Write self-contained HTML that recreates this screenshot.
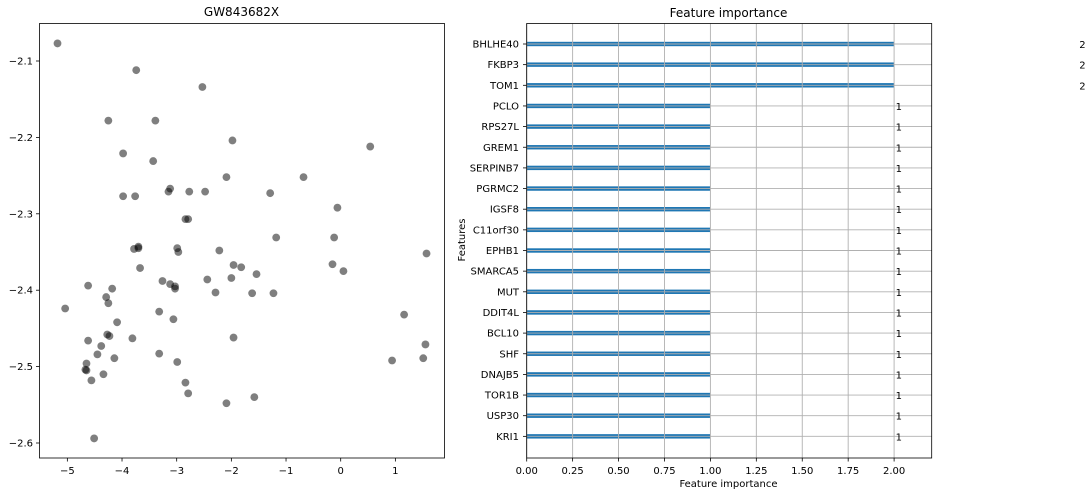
<!DOCTYPE html>
<html><head><meta charset="utf-8"><style>
body{margin:0;background:#fff;}
svg text{font-family:"DejaVu Sans","Liberation Sans",sans-serif;fill:#000;}
</style></head><body>
<svg id="fig" width="1092" height="496" xmlns="http://www.w3.org/2000/svg">
<rect width="1092" height="496" fill="#fff"/>
<g id="left"></g>
<g id="right"></g>
</svg>
<script>
const scatterX=[-5.18,-3.74,-2.53,-4.25,-3.39,-1.98,0.54,-3.98,-3.43,-2.09,-0.68,-3.12,-3.15,-2.77,-2.48,-1.29,-3.98,-3.76,-0.06,-2.84,-2.79,-1.18,-0.12,
-3.78,-3.70,-3.70,-2.99,-2.97,-2.22,1.57,-1.96,-1.82,-0.15,0.05,-3.67,-1.54,-3.26,-3.12,-3.03,-3.03,-2.44,-2.00,-4.62,-4.18,-2.29,-1.62,-1.23,-4.29,-4.25,-5.04,-3.32,1.16,-3.06,-4.09,-1.96,-3.81,-4.62,-4.27,-4.23,-4.38,1.55,-4.45,-3.32,-4.14,1.51,0.94,-2.99,-4.65,-4.67,-4.65,-4.34,-4.56,-2.84,-2.79,-1.58,-2.09,-4.51];
const scatterY=[-2.077,-2.112,-2.134,-2.178,-2.178,-2.204,-2.212,-2.221,-2.231,-2.252,-2.252,-2.267,-2.271,-2.271,-2.271,-2.273,-2.277,-2.277,-2.292,-2.307,-2.307,-2.331,-2.331,
-2.346,-2.343,-2.345,-2.345,-2.350,-2.348,-2.352,-2.367,-2.370,-2.366,-2.375,-2.371,-2.379,-2.388,-2.392,-2.395,-2.398,-2.386,-2.384,-2.394,-2.398,-2.403,-2.404,-2.404,-2.409,-2.417,-2.424,-2.428,-2.432,-2.438,-2.442,-2.462,-2.463,-2.466,-2.458,-2.460,-2.473,-2.471,-2.484,-2.483,-2.489,-2.489,-2.492,-2.494,-2.496,-2.504,-2.505,-2.510,-2.518,-2.521,-2.535,-2.540,-2.548,-2.594];
const scatterXTicks=[-5,-4,-3,-2,-1,0,1];
const scatterYTicks=[-2.1,-2.2,-2.3,-2.4,-2.5,-2.6];
const features=["BHLHE40","FKBP3","TOM1","PCLO","RPS27L","GREM1","SERPINB7","PGRMC2","IGSF8","C11orf30","EPHB1","SMARCA5","MUT","DDIT4L","BCL10","SHF","DNAJB5","TOR1B","USP30","KRI1"];
const importances=[2,2,2,1,1,1,1,1,1,1,1,1,1,1,1,1,1,1,1,1];
const impTicks=[0,0.25,0.5,0.75,1.0,1.25,1.5,1.75,2.0];

const NS="http://www.w3.org/2000/svg";
function mk(p,t,a){const e=document.createElementNS(NS,t);for(const k in a)e.setAttribute(k,a[k]);p.appendChild(e);return e;}
const L=document.getElementById('left'),R=document.getElementById('right');
// left axes
const lx=v=>340.7+54.67*v, ly=v=>61+(-2.1-v)*764;
let t=mk(L,'text',{x:241.5,y:16,'text-anchor':'middle','font-size':12});t.textContent='GW843682X';

scatterX.forEach((x,i)=>{const c=mk(L,'circle',{cx:lx(x),cy:ly(scatterY[i]),r:3.9,fill:'#000','fill-opacity':0.5});
});
scatterXTicks.forEach(v=>{const X=lx(v);mk(L,'line',{x1:X,x2:X,y1:458,y2:461.5,stroke:'#000','stroke-width':0.8});
const tt=mk(L,'text',{x:X,y:474,'text-anchor':'middle','font-size':10});tt.textContent=(v<0?'\u2212'+(-v):v);
});
scatterYTicks.forEach(v=>{const Y=ly(v);mk(L,'line',{x1:36,x2:39.5,y1:Y,y2:Y,stroke:'#000','stroke-width':0.8});
const tt=mk(L,'text',{x:33,y:Y+3.5,'text-anchor':'end','font-size':10});tt.textContent='\u2212'+(-v).toFixed(1);
});
let fr=mk(L,'rect',{x:39.5,y:23.5,width:405,height:434.5,fill:'none',stroke:'#000','stroke-width':0.8});


// right axes
const rx=v=>526.7+183.7*v, ry=i=>44+i*20.65;
t=mk(R,'text',{x:728.5,y:17,'text-anchor':'middle','font-size':12});t.textContent='Feature importance';

features.forEach((f,i)=>{const Y=ry(i),v=importances[i];
const b=mk(R,'rect',{x:rx(0),y:Y-2.2,width:rx(v)-rx(0),height:4.4,fill:'#1f77b4'});

mk(R,'line',{x1:526.7,x2:931.7,y1:Y,y2:Y,stroke:'#b0b0b0','stroke-width':0.9});
mk(R,'line',{x1:523,x2:526.7,y1:Y,y2:Y,stroke:'#000','stroke-width':0.8});
const l=mk(R,'text',{x:519,y:Y+3.5,'text-anchor':'end','font-size':10});l.textContent=f;

const vl=mk(R,'text',{x:rx(v+1)+1.5,y:Y+4,'font-size':10});vl.textContent=v;
});
impTicks.forEach(v=>{const X=rx(v);mk(R,'line',{x1:X,x2:X,y1:23.5,y2:458,stroke:'#b0b0b0','stroke-width':0.9});
mk(R,'line',{x1:X,x2:X,y1:458,y2:461.5,stroke:'#000','stroke-width':0.8});
const tt=mk(R,'text',{x:X,y:474,'text-anchor':'middle','font-size':10});tt.textContent=v.toFixed(2);
});
fr=mk(R,'rect',{x:526.7,y:23.5,width:405,height:434.5,fill:'none',stroke:'#000','stroke-width':0.8});

t=mk(R,'text',{x:728.5,y:487,'text-anchor':'middle','font-size':10});t.textContent='Feature importance';

t=mk(R,'text',{x:0,y:0,'text-anchor':'middle','font-size':10,transform:'translate(465,240) rotate(-90)'});t.textContent='Features';

</script>
</body></html>
